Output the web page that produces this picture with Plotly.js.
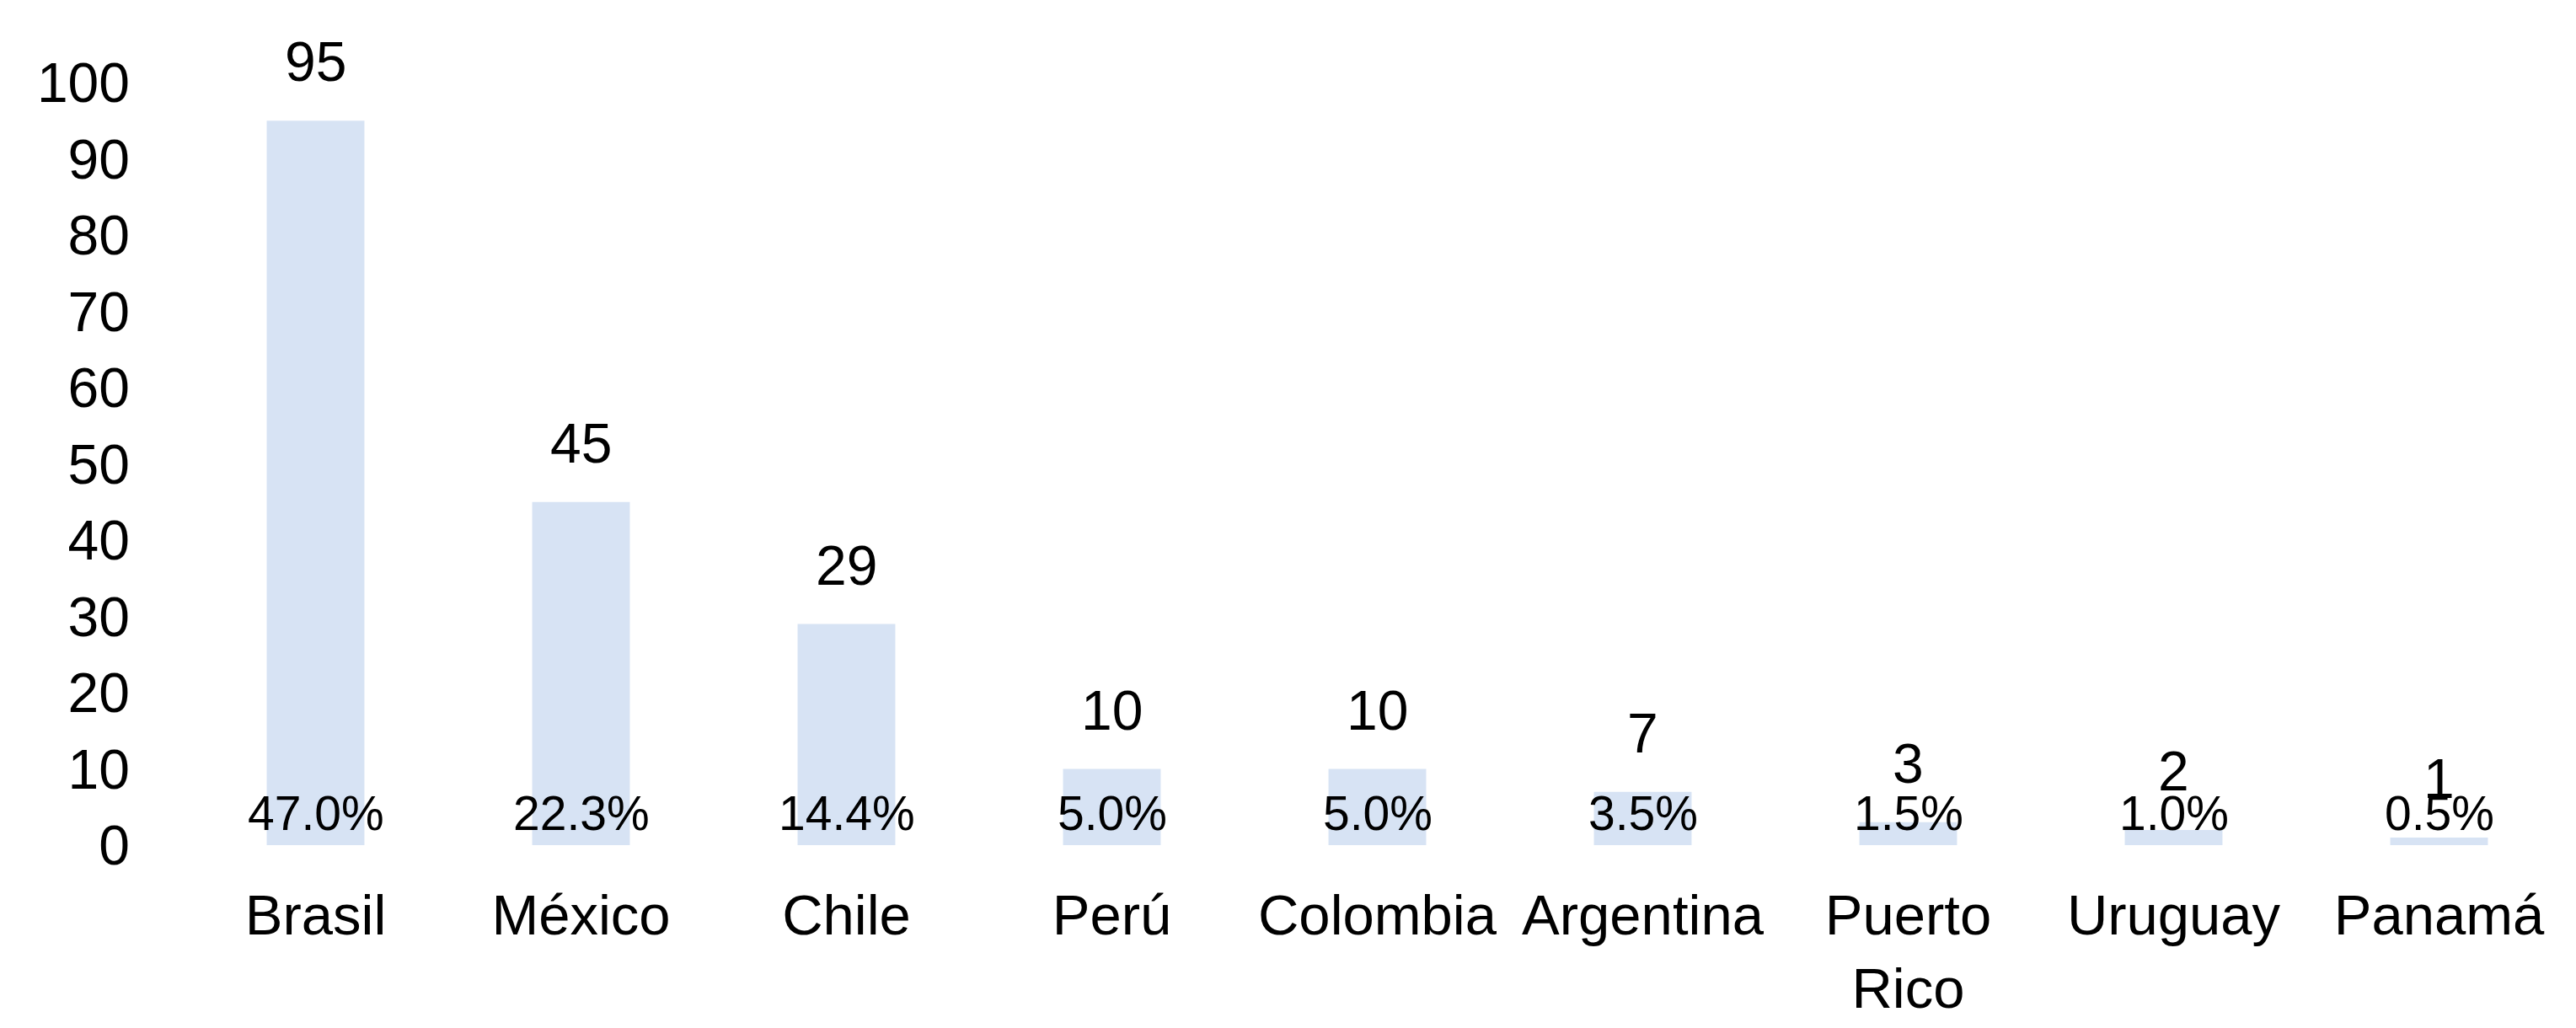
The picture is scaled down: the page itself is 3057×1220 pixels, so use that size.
<!DOCTYPE html>
<html>
<head>
<meta charset="utf-8">
<script src="https://cdn.plot.ly/plotly-3.0.1.min.js"></script>
<style>
  html, body { margin: 0; padding: 0; background: #fff; }
  #vis { width: 3057px; height: 1220px; }
</style>
</head>
<body>
<div id="vis"></div>
<script>
const countries = ['Brasil', 'México', 'Chile', 'Perú', 'Colombia', 'Argentina', 'Puerto<br>Rico', 'Uruguay', 'Panamá']
const counts = [95, 45, 29, 10, 10, 7, 3, 2, 1]
const shares = ['47.0%', '22.3%', '14.4%', '5.0%', '5.0%', '3.5%', '1.5%', '1.0%', '0.5%']
const yTicks = [0, 10, 20, 30, 40, 50, 60, 70, 80, 90, 100]

const font = 'Liberation Sans, Arial, sans-serif'

function makePlot () {
  const traces = [
    {
      type: 'bar',
      x: countries,
      y: counts,
      marker: { color: '#D7E3F4' },
      hoverinfo: 'skip'
    }
  ]

  // count above each bar, share near the base
  const annotations = []
  for (let i = 0; i < countries.length; i++) {
    annotations.push({
      x: countries[i],
      y: counts[i],
      text: String(counts[i]),
      showarrow: false,
      yanchor: 'middle',
      yshift: 70,
      font: { family: font, size: 66, color: '#000' }
    })
    annotations.push({
      x: countries[i],
      y: 0,
      text: shares[i],
      showarrow: false,
      yanchor: 'middle',
      yshift: 38,
      font: { family: font, size: 57, color: '#000' }
    })
  }

  const layout = {
    width: 3057,
    height: 1220,
    margin: { l: 217, r: 5, t: 98, b: 217 },
    paper_bgcolor: '#fff',
    plot_bgcolor: '#fff',
    showlegend: false,
    bargap: 0.632,
    font: { family: font, color: '#000' },
    xaxis: {
      type: 'category',
      showgrid: false,
      zeroline: false,
      showline: false,
      ticks: '',
      ticklabelstandoff: 38,
      tickfont: { family: font, size: 67, color: '#000' }
    },
    yaxis: {
      range: [0, 100],
      tickvals: yTicks,
      showgrid: false,
      zeroline: false,
      showline: false,
      ticks: '',
      ticklabelstandoff: 62,
      tickfont: { family: font, size: 66, color: '#000' }
    },
    annotations: annotations
  }

  return Plotly.newPlot('vis', traces, layout, { staticPlot: true })
}

makePlot()
</script>
</body>
</html>
